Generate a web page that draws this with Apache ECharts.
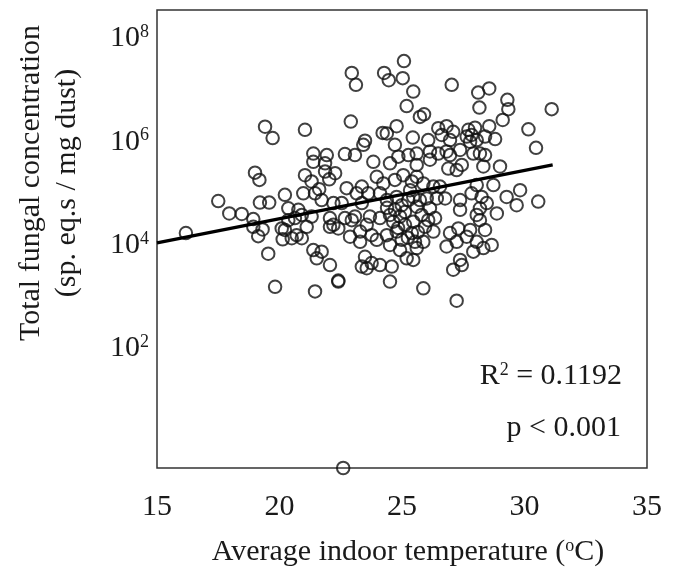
<!DOCTYPE html>
<html><head><meta charset="utf-8">
<script src="https://cdn.jsdelivr.net/npm/echarts@6/dist/echarts.min.js"></script>
<style>html,body{margin:0;padding:0;background:#fff}#c{width:677px;height:579px}</style>
</head><body><div id="c"></div>
<script>
// Average indoor temperature (°C)
const temperature = [
19.41,19.72,25.08,22.95,23.12,24.27,24.46,25.03,25.46,25.19,22.91,21.04,24.78,24.21,24.38,25.44,23.49,23.42,24.71,25.73,
27.03,28.11,28.56,29.30,29.34,28.16,31.11,25.90,29.11,30.16,30.47,26.48,26.82,26.62,27.09,26.96,27.71,27.98,28.56,27.64,
27.84,28.05,27.78,28.39,28.80,26.07,26.14,26.48,26.82,26.96,27.37,27.91,28.18,28.39,19.00,19.18,17.50,17.95,18.46,18.93,
19.20,19.58,20.22,16.18,18.93,19.31,19.13,20.09,20.13,19.54,19.82,21.38,21.93,21.86,21.38,22.67,23.08,23.83,24.51,24.85,
25.26,25.60,21.04,21.31,21.86,22.27,22.03,21.62,22.74,23.36,23.97,24.24,24.71,25.05,25.40,25.60,20.97,21.45,21.72,22.20,
22.54,23.15,23.62,23.36,24.10,24.38,24.78,24.99,25.26,25.46,20.36,20.77,20.91,20.63,20.36,21.31,22.06,22.20,22.67,22.95,
23.08,23.69,23.56,24.10,24.51,24.64,24.92,25.12,25.46,20.22,20.70,20.50,20.91,21.11,22.06,22.40,22.88,23.29,23.29,23.76,
23.97,24.38,24.78,24.99,25.40,25.53,21.38,21.72,21.52,23.49,23.76,24.10,24.58,25.19,25.46,23.36,23.56,22.06,22.40,22.40,
21.45,24.51,26.14,25.60,26.89,27.23,27.44,28.32,29.00,25.87,26.28,26.55,26.01,26.42,26.76,27.37,27.84,28.05,28.25,28.46,
28.73,29.27,29.82,29.68,30.56,25.60,26.14,27.37,28.18,25.80,26.07,26.35,25.94,26.28,28.05,28.18,28.87,27.30,27.78,28.39,
26.96,25.87,25.60,26.82,27.23,27.64,28.05,28.32,28.66,27.91,27.37,27.09,27.44,25.87,27.23,
24.71,25.12,24.84,25.24,25.73,24.51,24.92,25.65,24.39,25.33,22.60
];
// log10 of total fungal concentration (sp. eq.s / mg dust)
const log10Concentration = [
6.29,6.07,7.56,7.33,7.10,7.33,7.19,7.23,6.97,6.69,6.39,6.23,6.30,6.17,6.16,6.08,6.02,5.94,5.94,6.48,
7.10,6.95,7.03,6.81,6.63,6.66,6.63,6.53,6.42,6.24,5.88,6.26,6.30,6.13,6.19,6.03,6.23,6.27,6.30,6.10,
6.13,6.03,6.00,6.10,6.05,6.03,5.81,5.77,5.81,5.74,5.84,5.77,5.77,5.74,5.40,5.26,4.85,4.61,4.60,4.50,
4.82,4.82,4.97,4.23,4.35,4.30,4.17,4.32,4.11,3.83,3.19,5.77,5.74,5.58,5.61,5.76,5.74,5.61,5.58,5.71,
5.74,5.77,5.35,5.23,5.42,5.39,5.27,5.08,5.10,5.13,5.32,5.19,5.26,5.35,5.23,5.32,5.00,5.00,4.87,4.81,
4.81,5.00,5.00,4.81,5.00,4.87,4.93,4.77,4.87,4.93,4.71,4.68,4.58,4.52,4.48,4.55,4.52,4.39,4.52,4.48,
4.55,4.55,4.39,4.52,4.58,4.45,4.55,4.39,4.45,4.29,4.19,4.13,4.13,4.35,4.35,4.32,4.16,4.26,4.06,4.19,
4.10,4.19,4.26,4.10,4.23,4.06,3.90,3.87,3.74,3.77,3.65,3.61,3.58,3.74,3.71,3.58,3.55,3.61,3.29,3.31,
3.10,3.29,5.65,5.55,5.48,5.45,5.55,5.52,5.52,5.19,5.13,5.13,4.90,4.90,4.90,4.87,5.00,5.16,4.93,4.81,
5.16,4.93,5.06,4.77,4.84,4.74,4.71,4.68,4.71,4.58,4.48,4.52,4.35,4.26,4.58,4.48,4.61,4.32,4.29,4.29,
4.23,4.06,3.94,3.97,4.06,4.16,4.06,3.94,4.00,3.87,3.71,3.52,3.61,3.16,2.92,
4.68,4.64,4.33,4.14,4.87,4.00,3.90,4.25,4.72,5.06,-0.32
];
const xTickValues = [15, 20, 25, 30, 35];
const yTickExponents = [2, 4, 6, 8];
const trendTemperature = [15, 31.15];
const trendLog10 = [4.04, 5.55];
const statLines = ['R{s|2} = 0.1192', 'p < 0.001'];

const serif = '"Liberation Serif", "Times New Roman", serif';
const ink = '#1a1a1a';
const chart = echarts.init(document.getElementById('c'), null, {renderer: 'canvas'});
const points = temperature.map((t, i) => [t, log10Concentration[i]]);
const trend = trendTemperature.map((t, i) => [t, trendLog10[i]]);

chart.setOption({
  animation: false,
  backgroundColor: '#fff',
  grid: {left: 157, right: 30, top: 10, bottom: 111, show: true, borderColor: '#333', borderWidth: 1.5, backgroundColor: 'transparent'},
  xAxis: {
    type: 'value', min: 15, max: 35,
    axisLine: {show: false}, axisTick: {show: false}, splitLine: {show: false},
    axisLabel: {customValues: xTickValues, margin: 24, fontSize: 30, fontFamily: serif, color: ink, showMinLabel: true, showMaxLabel: true}
  },
  yAxis: {
    type: 'value', min: -0.32, max: 8.55,
    axisLine: {show: false}, axisTick: {show: false}, splitLine: {show: false},
    axisLabel: {
      customValues: yTickExponents, margin: 8, fontSize: 30, fontFamily: serif, color: ink,
      formatter: v => '10{s|' + v + '}',
      rich: {s: {fontSize: 18, fontFamily: serif, color: ink, verticalAlign: 'top'}}
    }
  },
  graphic: [
    {type: 'text', x: 408, y: 552, style: {text: 'Average indoor temperature ({s|o}C)', font: '30px ' + serif, fill: ink, align: 'center', verticalAlign: 'middle',
      rich: {s: {fontSize: 18, fontFamily: serif, fill: ink, verticalAlign: 'top'}}}},
    {type: 'text', x: 31, y: 183, rotation: Math.PI / 2, style: {text: 'Total fungal concentration', font: '30px ' + serif, fill: ink, align: 'center', verticalAlign: 'middle'}},
    {type: 'text', x: 67, y: 183, rotation: Math.PI / 2, style: {text: '(sp. eq.s / mg dust)', font: '30px ' + serif, fill: ink, align: 'center', verticalAlign: 'middle'}},
    {type: 'text', x: 622, y: 376, style: {text: statLines[0], font: '30px ' + serif, fill: ink, align: 'right', verticalAlign: 'middle',
      rich: {s: {fontSize: 18, fontFamily: serif, fill: ink, verticalAlign: 'top'}}}},
    {type: 'text', x: 621, y: 428, style: {text: statLines[1], font: '30px ' + serif, fill: ink, align: 'right', verticalAlign: 'middle'}}
  ],
  series: [
    {
      type: 'scatter', data: points, symbol: 'circle', symbolSize: 12.5, clip: false,
      itemStyle: {color: 'rgba(0,0,0,0)', borderColor: '#111', borderWidth: 2},
      emphasis: {disabled: true}, z: 2
    },
    {
      type: 'line', data: trend, showSymbol: false, symbol: 'none',
      lineStyle: {color: '#000', width: 3.2}, z: 3, silent: true
    }
  ]
});
</script>
</body></html>
